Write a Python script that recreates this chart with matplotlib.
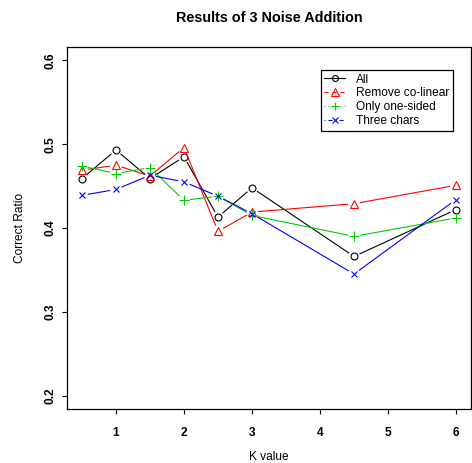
import matplotlib
matplotlib.use('Agg')
import matplotlib.pyplot as plt
import numpy as np
from matplotlib.lines import Line2D

k_values = [0.5, 1, 1.5, 2, 2.5, 3, 4.5, 6]
all_vals = [0.459, 0.493, 0.459, 0.485, 0.413, 0.448, 0.366, 0.422]
remove_colinear = [0.469, 0.475, 0.462, 0.496, 0.396, 0.419, 0.429, 0.451]
only_one_sided = [0.474, 0.465, 0.472, 0.433, 0.438, 0.415, 0.390, 0.412]
three_chars = [0.439, 0.446, 0.463, 0.455, 0.438, 0.417, 0.345, 0.434]
series_names = ["All", "Remove co-linear", "Only one-sided", "Three chars"]
x_ticks = [1, 2, 3, 4, 5, 6]
y_ticks = [0.2, 0.3, 0.4, 0.5, 0.6]

plt.rcParams['font.family'] = ['Liberation Sans', 'DejaVu Sans']
plt.rcParams['lines.scale_dashes'] = False

W, H = 472, 463
fig = plt.figure(figsize=(W / 100, H / 100), dpi=100)
ax = fig.add_axes([67 / W, 1 - 409 / H, (471 - 67) / W, (409 - 47) / H])
ax.set_xlim(0.28, 6.22)
ax.set_ylim(0.184, 0.616)

colors = ['black', '#FF0000', '#00CD00', '#0000FF']
markers = ['o', '^', '+', 'x']
msizes = [5.0, 6.0, 7.0, 5.0]
dash_styles = [None, (2.9, 2.9), (0.7, 2.2), (0.7, 2.2, 2.9, 2.2)]
data = [all_vals, remove_colinear, only_one_sided, three_chars]
LW = 0.8


def draw_b(x, y, color, marker, ms, gap_px=6.0):
    pts = ax.transData.transform(np.column_stack([x, y]))
    inv = ax.transData.inverted()
    for p0, p1 in zip(pts[:-1], pts[1:]):
        d = p1 - p0
        L = np.hypot(*d)
        if L <= 2 * gap_px:
            continue
        u = d / L
        a = inv.transform(p0 + u * gap_px)
        b = inv.transform(p1 - u * gap_px)
        ax.plot([a[0], b[0]], [a[1], b[1]], color=color, lw=LW,
                solid_capstyle='butt')
    ax.plot(x, y, linestyle='none', marker=marker, ms=ms, mfc='none',
            mec=color, mew=LW)


for vals, c, m, ms in zip(data, colors, markers, msizes):
    draw_b(k_values, vals, c, m, ms)

ax.set_xticks(x_ticks)
ax.set_xticklabels([str(v) for v in x_ticks], fontweight='bold', fontsize=8.6)
ax.set_yticks(y_ticks)
ax.set_yticklabels([f"{v:.1f}" for v in y_ticks], fontweight='bold',
                   fontsize=8.6, rotation=90, va='center')
ax.tick_params(axis='both', direction='out', length=3.6, width=0.8)
ax.tick_params(axis='x', pad=9.5)
ax.tick_params(axis='y', pad=4)
for s in ax.spines.values():
    s.set_linewidth(0.9)

fig.text(269 / W, 1 - 18 / H, "Results of 3 Noise Addition",
         ha='center', va='center', fontsize=10.4, fontweight='bold')
fig.text(269 / W, 1 - 457 / H, "K value", ha='center', va='center',
         fontsize=8.6)
fig.text(20 / W, 1 - 228 / H, "Correct Ratio", ha='center', va='center',
         rotation=90, fontsize=8.6)

handles = []
for c, m, ms, ds in zip(colors, markers, msizes, dash_styles):
    if ds is None:
        h = Line2D([], [], color=c, lw=LW, marker=m, ms=ms * 0.85, mfc='none',
                   mec=c, mew=LW)
    else:
        h = Line2D([], [], color=c, lw=LW, marker=m, ms=ms * 0.85, mfc='none',
                   mec=c, mew=LW, dashes=ds)
    handles.append(h)

leg = fig.legend(handles, series_names, loc='upper left',
                 bbox_to_anchor=(320.7 / W, 1 - 70 / H), borderaxespad=0,
                 fontsize=8.6, handlelength=1.75, handletextpad=0.9,
                 labelspacing=0.15, borderpad=0.3, fancybox=False,
                 frameon=True, framealpha=1, edgecolor='black')
leg.get_frame().set_linewidth(0.9)

fig.savefig('out.png', dpi=100)
